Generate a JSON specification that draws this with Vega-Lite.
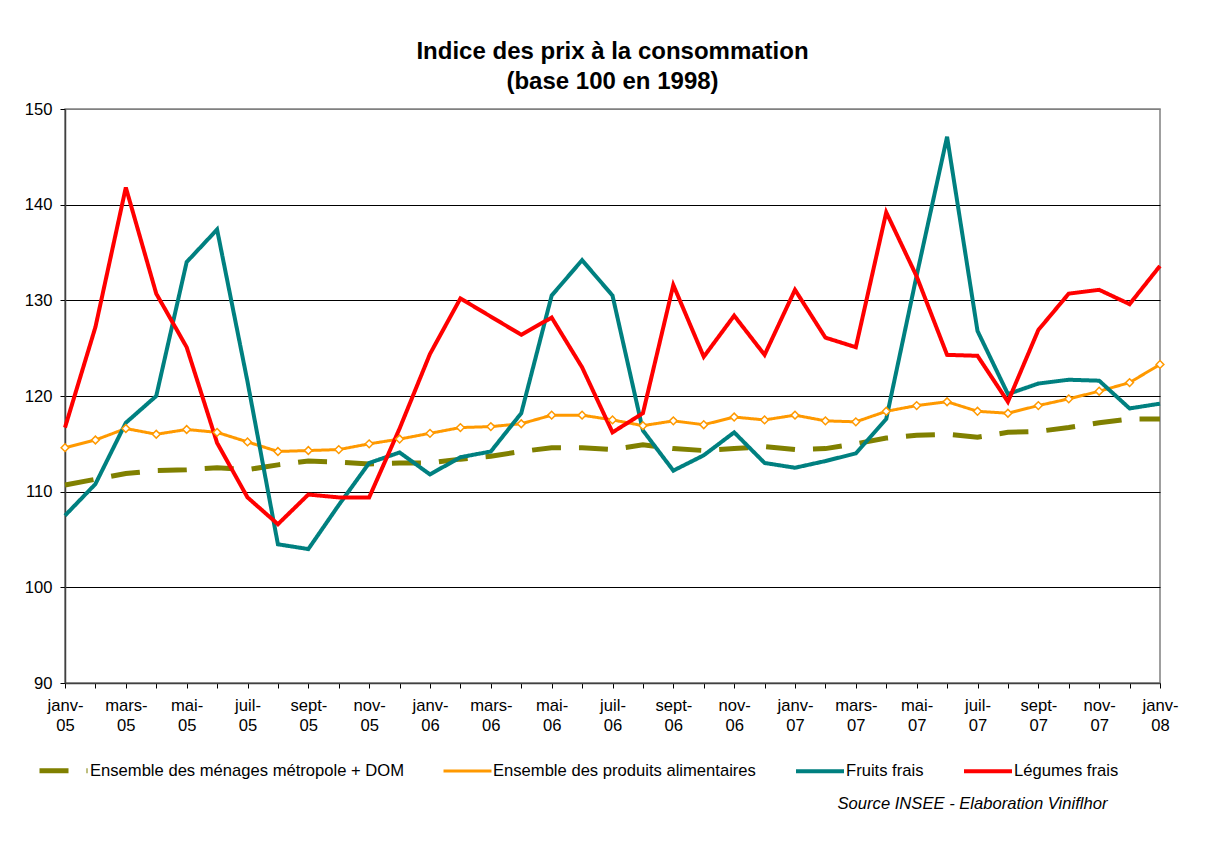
{
  "$schema": "https://vega.github.io/schema/vega-lite/v6.json",
  "width": 1095,
  "height": 574,
  "autosize": {"type": "none"},
  "padding": {"left": 65, "top": 109, "right": 59, "bottom": 158},
  "background": "white",
  "config": {
    "font": "Liberation Sans",
    "view": {"stroke": "#808080", "strokeWidth": 1.5}
  },
  "title": {
    "text": ["Indice des prix à la consommation", "(base 100 en 1998)"],
    "fontSize": 24,
    "fontWeight": "bold",
    "font": "Liberation Sans",
    "color": "black",
    "anchor": "middle",
    "lineHeight": 30.5,
    "offset": 7
  },
  "data": {
    "values": [
      {"mois": "janv-05", "Ensemble des ménages métropole + DOM": 110.7, "Ensemble des produits alimentaires": 114.6, "Fruits frais": 107.5, "Légumes frais": 116.7},
      {"mois": "févr-05", "Ensemble des ménages métropole + DOM": 111.3, "Ensemble des produits alimentaires": 115.4, "Fruits frais": 110.8, "Légumes frais": 127.2},
      {"mois": "mars-05", "Ensemble des ménages métropole + DOM": 111.9, "Ensemble des produits alimentaires": 116.6, "Fruits frais": 117.2, "Légumes frais": 141.8},
      {"mois": "avr-05", "Ensemble des ménages métropole + DOM": 112.2, "Ensemble des produits alimentaires": 116.0, "Fruits frais": 120.0, "Légumes frais": 130.7},
      {"mois": "mai-05", "Ensemble des ménages métropole + DOM": 112.3, "Ensemble des produits alimentaires": 116.5, "Fruits frais": 134.0, "Légumes frais": 125.1},
      {"mois": "juin-05", "Ensemble des ménages métropole + DOM": 112.5, "Ensemble des produits alimentaires": 116.2, "Fruits frais": 137.4, "Légumes frais": 115.1},
      {"mois": "juil-05", "Ensemble des ménages métropole + DOM": 112.3, "Ensemble des produits alimentaires": 115.2, "Fruits frais": 121.5, "Légumes frais": 109.4},
      {"mois": "août-05", "Ensemble des ménages métropole + DOM": 112.8, "Ensemble des produits alimentaires": 114.2, "Fruits frais": 104.5, "Légumes frais": 106.6},
      {"mois": "sept-05", "Ensemble des ménages métropole + DOM": 113.2, "Ensemble des produits alimentaires": 114.3, "Fruits frais": 104.0, "Légumes frais": 109.7},
      {"mois": "oct-05", "Ensemble des ménages métropole + DOM": 113.1, "Ensemble des produits alimentaires": 114.4, "Fruits frais": 108.6, "Légumes frais": 109.4},
      {"mois": "nov-05", "Ensemble des ménages métropole + DOM": 112.9, "Ensemble des produits alimentaires": 115.0, "Fruits frais": 113.0, "Légumes frais": 109.4},
      {"mois": "déc-05", "Ensemble des ménages métropole + DOM": 113.0, "Ensemble des produits alimentaires": 115.5, "Fruits frais": 114.1, "Légumes frais": 116.6},
      {"mois": "janv-06", "Ensemble des ménages métropole + DOM": 113.0, "Ensemble des produits alimentaires": 116.1, "Fruits frais": 111.8, "Légumes frais": 124.4},
      {"mois": "févr-06", "Ensemble des ménages métropole + DOM": 113.4, "Ensemble des produits alimentaires": 116.7, "Fruits frais": 113.6, "Légumes frais": 130.2},
      {"mois": "mars-06", "Ensemble des ménages métropole + DOM": 113.7, "Ensemble des produits alimentaires": 116.8, "Fruits frais": 114.2, "Légumes frais": 128.3},
      {"mois": "avr-06", "Ensemble des ménages métropole + DOM": 114.2, "Ensemble des produits alimentaires": 117.1, "Fruits frais": 118.2, "Légumes frais": 126.4},
      {"mois": "mai-06", "Ensemble des ménages métropole + DOM": 114.6, "Ensemble des produits alimentaires": 118.0, "Fruits frais": 130.5, "Légumes frais": 128.2},
      {"mois": "juin-06", "Ensemble des ménages métropole + DOM": 114.6, "Ensemble des produits alimentaires": 118.0, "Fruits frais": 134.2, "Légumes frais": 123.0},
      {"mois": "juil-06", "Ensemble des ménages métropole + DOM": 114.4, "Ensemble des produits alimentaires": 117.5, "Fruits frais": 130.5, "Légumes frais": 116.2},
      {"mois": "août-06", "Ensemble des ménages métropole + DOM": 114.9, "Ensemble des produits alimentaires": 116.9, "Fruits frais": 116.4, "Légumes frais": 118.2},
      {"mois": "sept-06", "Ensemble des ménages métropole + DOM": 114.5, "Ensemble des produits alimentaires": 117.4, "Fruits frais": 112.2, "Légumes frais": 131.6},
      {"mois": "oct-06", "Ensemble des ménages métropole + DOM": 114.3, "Ensemble des produits alimentaires": 117.0, "Fruits frais": 113.8, "Légumes frais": 124.1},
      {"mois": "nov-06", "Ensemble des ménages métropole + DOM": 114.5, "Ensemble des produits alimentaires": 117.8, "Fruits frais": 116.2, "Légumes frais": 128.4},
      {"mois": "déc-06", "Ensemble des ménages métropole + DOM": 114.7, "Ensemble des produits alimentaires": 117.5, "Fruits frais": 113.0, "Légumes frais": 124.3},
      {"mois": "janv-07", "Ensemble des ménages métropole + DOM": 114.4, "Ensemble des produits alimentaires": 118.0, "Fruits frais": 112.5, "Légumes frais": 131.1},
      {"mois": "févr-07", "Ensemble des ménages métropole + DOM": 114.5, "Ensemble des produits alimentaires": 117.4, "Fruits frais": 113.2, "Légumes frais": 126.1},
      {"mois": "mars-07", "Ensemble des ménages métropole + DOM": 115.0, "Ensemble des produits alimentaires": 117.3, "Fruits frais": 114.0, "Légumes frais": 125.1},
      {"mois": "avr-07", "Ensemble des ménages métropole + DOM": 115.6, "Ensemble des produits alimentaires": 118.4, "Fruits frais": 117.6, "Légumes frais": 139.2},
      {"mois": "mai-07", "Ensemble des ménages métropole + DOM": 115.9, "Ensemble des produits alimentaires": 119.0, "Fruits frais": 132.6, "Légumes frais": 132.5},
      {"mois": "juin-07", "Ensemble des ménages métropole + DOM": 116.0, "Ensemble des produits alimentaires": 119.4, "Fruits frais": 147.1, "Légumes frais": 124.3},
      {"mois": "juil-07", "Ensemble des ménages métropole + DOM": 115.7, "Ensemble des produits alimentaires": 118.4, "Fruits frais": 126.8, "Légumes frais": 124.2},
      {"mois": "août-07", "Ensemble des ménages métropole + DOM": 116.2, "Ensemble des produits alimentaires": 118.2, "Fruits frais": 120.2, "Légumes frais": 119.4},
      {"mois": "sept-07", "Ensemble des ménages métropole + DOM": 116.3, "Ensemble des produits alimentaires": 119.0, "Fruits frais": 121.3, "Légumes frais": 126.9},
      {"mois": "oct-07", "Ensemble des ménages métropole + DOM": 116.7, "Ensemble des produits alimentaires": 119.7, "Fruits frais": 121.7, "Légumes frais": 130.7},
      {"mois": "nov-07", "Ensemble des ménages métropole + DOM": 117.2, "Ensemble des produits alimentaires": 120.5, "Fruits frais": 121.6, "Légumes frais": 131.1},
      {"mois": "déc-07", "Ensemble des ménages métropole + DOM": 117.6, "Ensemble des produits alimentaires": 121.4, "Fruits frais": 118.7, "Légumes frais": 129.6},
      {"mois": "janv-08", "Ensemble des ménages métropole + DOM": 117.6, "Ensemble des produits alimentaires": 123.3, "Fruits frais": 119.2, "Légumes frais": 133.6}
    ]
  },
  "transform": [
    {"fold": ["Ensemble des ménages métropole + DOM", "Ensemble des produits alimentaires", "Fruits frais", "Légumes frais"], "as": ["serie", "valeur"]}
  ],
  "encoding": {
    "x": {
      "field": "mois",
      "type": "ordinal",
      "sort": null,
      "scale": {"type": "point", "padding": 0},
      "axis": {
        "title": "Source INSEE - Elaboration Viniflhor",
        "titleFontStyle": "italic",
        "titleFontWeight": "normal",
        "titleFontSize": 16.6,
        "titleColor": "black",
        "titleAlign": "right",
        "titleBaseline": "middle",
        "titleX": 1042,
        "titleY": 120,
        "labelAngle": 0,
        "labelFontSize": 16.6,
        "labelColor": "black",
        "labelLineHeight": 20.5,
        "labelPadding": 9,
        "labelBaseline": "top",
        "labelOverlap": false,
        "labelExpr": "indexof(['janv','mars','mai','juil','sept','nov'], split(datum.value,'-')[0]) >= 0 ? [split(datum.value,'-')[0] + '-', split(datum.value,'-')[1]] : ''",
        "tickSize": 5,
        "tickColor": "black",
        "domainColor": "#404040",
        "domainWidth": 1.5,
        "grid": false
      }
    },
    "y": {
      "field": "valeur",
      "type": "quantitative",
      "scale": {"domain": [90, 150], "nice": false, "zero": false},
      "axis": {
        "title": null,
        "values": [90, 100, 110, 120, 130, 140, 150],
        "labelFontSize": 16.6,
        "labelColor": "black",
        "labelPadding": 8,
        "tickSize": 5,
        "tickColor": "black",
        "domainColor": "#404040",
        "domainWidth": 1.5,
        "grid": true,
        "gridColor": {"condition": {"test": "datum.value == 150", "value": "#808080"}, "value": "black"},
        "gridWidth": 1
      }
    }
  },
  "layer": [
    {
      "mark": {"type": "line", "strokeCap": "butt", "strokeJoin": "miter"},
      "encoding": {
        "color": {
          "field": "serie",
          "type": "nominal",
          "scale": {
            "domain": ["Ensemble des ménages métropole + DOM", "Ensemble des produits alimentaires", "Fruits frais", "Légumes frais"],
            "range": ["#808000", "#FF9900", "#008080", "#FF0000"]
          },
          "legend": {
            "orient": "none",
            "legendX": -28,
            "legendY": 635,
            "direction": "horizontal",
            "title": null,
            "labelFontSize": 16.6,
            "labelColor": "black",
            "labelLimit": 500,
            "symbolType": "stroke",
            "symbolSize": 2304,
            "symbolStrokeWidth": 4,
            "labelOffset": 0,
            "columnPadding": 32,
            "padding": 0
          }
        },
        "strokeDash": {
          "field": "serie",
          "type": "nominal",
          "scale": {
            "domain": ["Ensemble des ménages métropole + DOM", "Ensemble des produits alimentaires", "Fruits frais", "Légumes frais"],
            "range": [[29, 18], [1, 0], [1, 0], [1, 0]]
          }
        },
        "strokeWidth": {
          "field": "serie",
          "type": "nominal",
          "scale": {
            "type": "ordinal",
            "domain": ["Ensemble des ménages métropole + DOM", "Ensemble des produits alimentaires", "Fruits frais", "Légumes frais"],
            "range": [5, 3, 4, 4]
          }
        }
      }
    },
    {
      "transform": [{"filter": "datum.serie == 'Ensemble des produits alimentaires'"}],
      "mark": {"type": "point", "shape": "diamond", "filled": true, "fill": "white", "stroke": "#FF9900", "strokeWidth": 1.5, "size": 60, "opacity": 1}
    }
  ]
}
